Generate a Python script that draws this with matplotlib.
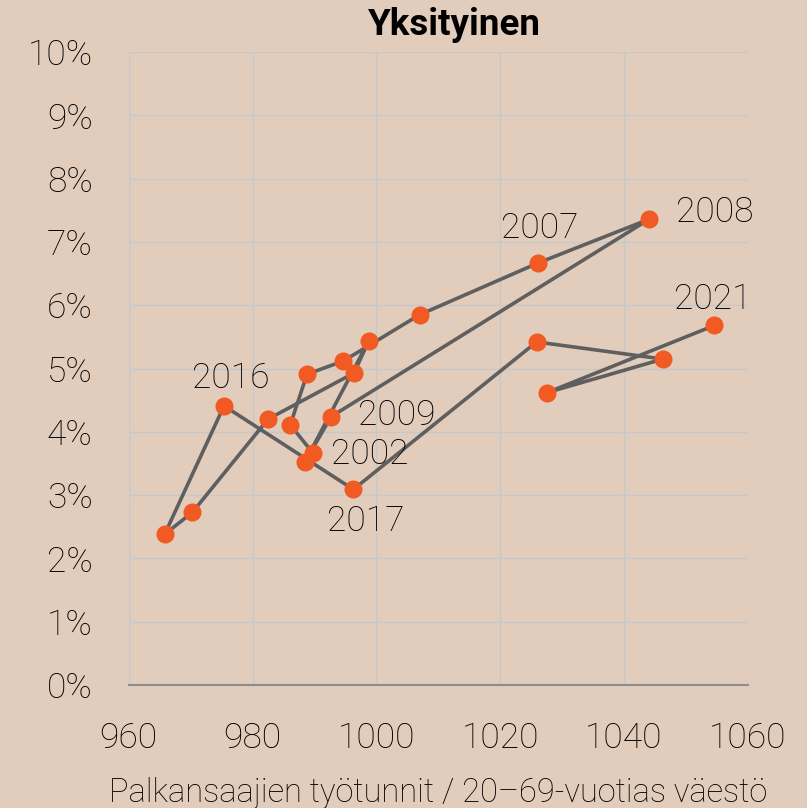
import matplotlib.pyplot as plt
from matplotlib.ticker import PercentFormatter

# hours worked per 20-69 population (x) and share (y, %) by year
years = [2002, 2003, 2004, 2005, 2006, 2007, 2008, 2009, 2010, 2011,
         2012, 2013, 2014, 2015, 2016, 2017, 2018, 2019, 2020, 2021]
hours = [989.8, 986.1, 988.8, 994.7, 1007.0, 1026.2, 1044.1, 992.7, 988.5, 998.8,
         996.4, 982.5, 970.3, 965.8, 975.4, 996.3, 1025.9, 1046.3, 1027.6, 1054.6]
share = [3.66, 4.11, 4.91, 5.12, 5.85, 6.67, 7.36, 4.24, 3.53, 5.44,
         4.93, 4.20, 2.73, 2.38, 4.41, 3.09, 5.42, 5.15, 4.62, 5.68]

labelled = [2016, 2007, 2008, 2021, 2009, 2002, 2017]
# label offsets in points from the marker
offsets = {2016: (5, 20), 2007: (1, 25), 2008: (47, 5), 2021: (-1, 19),
           2009: (47, 1), 2002: (41, -1), 2017: (9, -23)}

bg = "#e2cdbd"
txt_weight = "light"
plt.rcParams['font.family'] = ['Roboto', 'DejaVu Sans']

fig = plt.figure(figsize=(8.07, 8.08), dpi=100, facecolor=bg)
ax = fig.add_axes([0.1595, 0.1522, 0.767, 0.7834])
ax.set_facecolor(bg)

ax.plot(hours, share, color="#5f5f5f", linewidth=2.6, zorder=2)
ax.plot(hours, share, linestyle="none", marker="o", markersize=12,
        color="#f15a22", zorder=3)

for yr in labelled:
    i = years.index(yr)
    ax.annotate(str(yr), (hours[i], share[i]), xytext=offsets[yr],
                textcoords="offset points", ha="center", va="center",
                fontsize=25.5, fontweight=txt_weight, color="#000000")

ax.set_xlim(960, 1060)
ax.set_ylim(0, 10)
ax.set_xticks(range(960, 1061, 20))
ax.set_yticks(range(0, 11))
ax.yaxis.set_major_formatter(PercentFormatter(decimals=0))
ax.grid(True, color="#c8c8c8", linewidth=1)
ax.set_axisbelow(True)
for s in ["top", "right", "left"]:
    ax.spines[s].set_visible(False)
ax.spines["bottom"].set_color("#8c8c8c")
ax.spines["bottom"].set_linewidth(1.5)
ax.tick_params(length=0, labelsize=25.5, colors="#000000")
ax.tick_params(axis="y", pad=26)
ax.tick_params(axis="x", pad=26)
for lab in ax.get_xticklabels() + ax.get_yticklabels():
    lab.set_fontweight(txt_weight)

ax.set_xlabel("Palkansaajien työtunnit / 20–69-vuotias väestö", fontsize=23.5,
              fontweight=txt_weight, color="#000000", labelpad=16)
fig.text(454 / 807, 1 - 25 / 808, "Yksityinen", ha="center", va="center",
         fontsize=26.5, fontweight="bold", color="#000000")

fig.savefig("out.png", dpi=100, facecolor=bg)
